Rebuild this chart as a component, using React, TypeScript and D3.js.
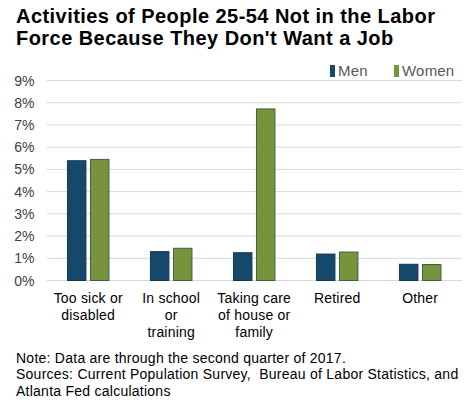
import React from "react";
import * as d3 from "d3";

const categories = ["Too sick or disabled", "In school or training", "Taking care of house or family", "Retired", "Other"];
const categoryLines = [["Too sick or", "disabled"], ["In school", "or", "training"], ["Taking care", "of house or", "family"], ["Retired"], ["Other"]];
const seriesNames = ["Men", "Women"];
const menValues = [5.39, 1.3, 1.25, 1.19, 0.73];
const womenValues = [5.45, 1.45, 7.72, 1.28, 0.72];
const yTicks = [0, 1, 2, 3, 4, 5, 6, 7, 8, 9];
const titleLines = ["Activities of People 25-54 Not in the Labor", "Force Because They Don't Want a Job"];
const noteLines = [
  "Note: Data are through the second quarter of 2017.",
  "Sources: Current Population Survey,  Bureau of Labor Statistics, and",
  "Atlanta Fed calculations",
];

const W = 471;
const H = 413;
const colors: Record<string, string> = { Men: "#16486b", Women: "#77933c" };
const strokes: Record<string, string> = { Men: "#123a55", Women: "#3f5f48" };
const font = "'Liberation Sans', Arial, sans-serif";

export default function App() {
  const x0 = d3.scaleBand<string>().domain(categories).range([46.7, 461.7]).padding(0);
  const x1 = d3
    .scaleBand<string>()
    .domain(seriesNames)
    .range([0, x0.bandwidth()])
    .paddingInner(0.196)
    .paddingOuter(0.902);
  const y = d3.scaleLinear().domain([0, 9]).range([280.5, 80.5]);
  const values: Record<string, number[]> = { Men: menValues, Women: womenValues };

  return (
    <svg width={W} height={H} style={{ position: "absolute", left: 0, top: 0, background: "#fff" }} fontFamily={font}>
      <rect width={W} height={H} fill="#fff" />
      {titleLines.map((t, i) => (
        <text key={i} x={16} y={22.5 + i * 22.8} fontSize={20} fontWeight="bold" fill="#000" letterSpacing={0.45} style={{ whiteSpace: "pre" }}>
          {t}
        </text>
      ))}
      {seriesNames.map((s, i) => {
        const lx = [330, 394][i];
        return (
          <g key={s}>
            <rect x={lx} y={65} width={5} height={12} fill={colors[s]} />
            <text x={lx + 8} y={76} fontSize={15} fill="#595959" letterSpacing={0.2}>
              {s}
            </text>
          </g>
        );
      })}
      {yTicks.map((t) => (
        <g key={t}>
          <line x1={46.7} x2={461.7} y1={y(t)} y2={y(t)} stroke="#d9d9d9" strokeWidth={1} />
          <text x={34.5} y={y(t) + 5} fontSize={14} textAnchor="end" fill="#404040">
            {t}%
          </text>
        </g>
      ))}
      {categories.map((c, ci) => (
        <g key={c} transform={`translate(${x0(c)},0)`}>
          {seriesNames.map((s) => (
            <rect
              key={s}
              x={x1(s)!}
              y={y(values[s][ci])}
              width={x1.bandwidth()}
              height={y(0) - y(values[s][ci])}
              fill={colors[s]}
              stroke={strokes[s]}
              strokeWidth={1}
            />
          ))}
          {categoryLines[ci].map((ln, li) => (
            <text key={li} x={x0.bandwidth() / 2} y={303 + li * 16.8} fontSize={14} textAnchor="middle" fill="#000" letterSpacing={0.2}>
              {ln}
            </text>
          ))}
        </g>
      ))}
      {noteLines.map((t, i) => (
        <text key={i} x={16} y={363 + i * 16.3} fontSize={14} fill="#000" letterSpacing={0.25} style={{ whiteSpace: "pre" }}>
          {t}
        </text>
      ))}
    </svg>
  );
}
